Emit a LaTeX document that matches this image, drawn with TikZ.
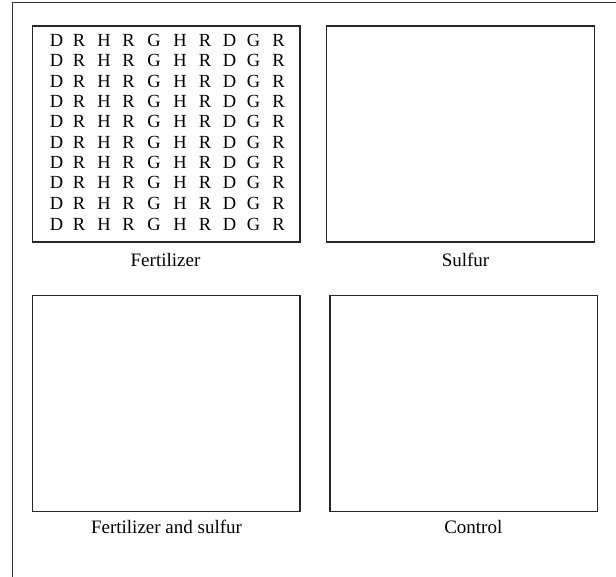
\documentclass[tikz,border=0pt]{standalone}
\usepackage{fontspec}
\setmainfont{Liberation Serif}
\begin{document}
\begin{tikzpicture}[x=1pt,y=-1pt,
  plotbox/.style={draw=black!85,line width=1.1pt},
  frameline/.style={draw=black!80,line width=1pt},
  lbl/.style={anchor=base,inner sep=0pt,font=\fontsize{19}{21}\selectfont},
  cell/.style={anchor=base,inner sep=0pt,font=\fontsize{18.5}{20}\selectfont}]
\useasboundingbox (0,0) rectangle (616,577);
\coordinate (ftop) at (616,3);
\coordinate (fcorner) at (12.5,3);
\coordinate (fbottom) at (12.5,577);
\draw[frameline] (ftop) -- (fcorner) -- (fbottom);
\draw[plotbox] (32.3,26) rectangle (300,242);
\draw[plotbox] (326.7,26) rectangle (594.3,242);
\draw[plotbox] (32.3,295.7) rectangle (300,511.7);
\draw[plotbox] (330,295.7) rectangle (597.7,511.7);
\node[lbl] (l1) at (165.5,266.7) {Fertilizer};
\node[lbl] (l2) at (465.5,266.7) {Sulfur};
\node[lbl] (l3) at (166.5,533.3) {Fertilizer and sulfur};
\node[lbl] (l4) at (473.3,533.3) {Control};
\foreach \yy [count=\r] in {46.7,66.9,87.2,107.5,127.9,148.2,168.5,188.8,210,230.3}{
  \foreach \xx/\ch [count=\c] in {56.5/D,79/R,104/H,128.5/R,154/G,180/H,205/R,229.5/D,253.5/G,278.5/R}{
    \node[cell] (c\r-\c) at (\xx,\yy) {\ch};
  }
}
\end{tikzpicture}
\end{document}
